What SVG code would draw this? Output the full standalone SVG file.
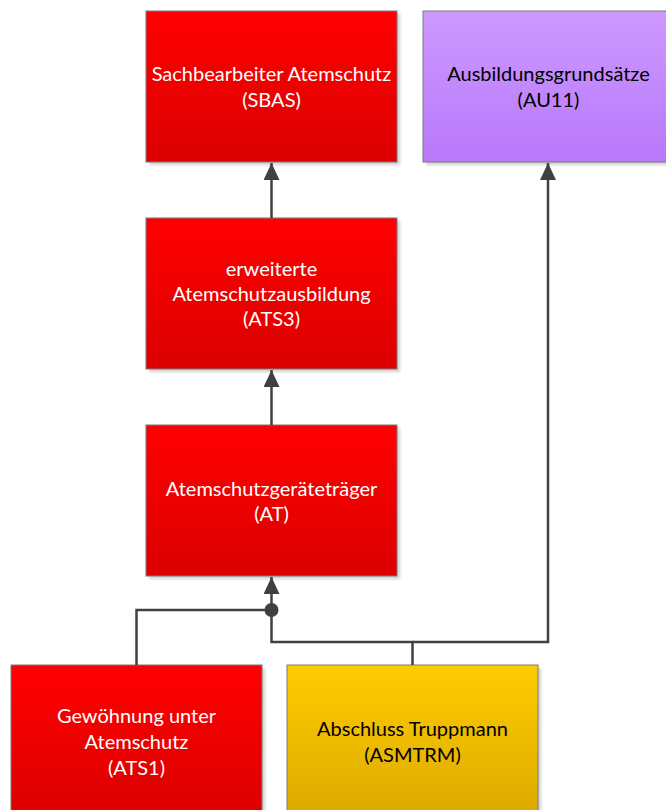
<svg xmlns="http://www.w3.org/2000/svg" width="666" height="810" viewBox="0 0 666 810">
<defs>
<linearGradient id="gRed" x1="0" y1="0" x2="0" y2="1"><stop offset="0" stop-color="#ff0000"/><stop offset="1" stop-color="#dc0000"/></linearGradient>
<linearGradient id="gPurple" x1="0" y1="0" x2="0" y2="1"><stop offset="0" stop-color="#cc99ff"/><stop offset="1" stop-color="#b978fb"/></linearGradient>
<linearGradient id="gYellow" x1="0" y1="0" x2="0" y2="1"><stop offset="0" stop-color="#ffcc00"/><stop offset="1" stop-color="#dcaa00"/></linearGradient>
<marker id="arr" viewBox="0 0 17 16" refX="17" refY="8" markerWidth="17" markerHeight="16" markerUnits="userSpaceOnUse" orient="auto">
<path d="M0,0 L17,8 L0,16 Z" fill="#404040"/>
</marker>
<filter id="sh" x="-5%" y="-5%" width="115%" height="115%"><feGaussianBlur stdDeviation="1.5"/></filter>
</defs>
<style>
.box{stroke:#7a7a7a;stroke-width:1}
.shadow{fill:#000;opacity:0.18;filter:url(#sh)}
.t{font-family:Lato,"Liberation Sans",sans-serif;font-size:20px;text-anchor:middle}
.w{fill:#ffffff}
.k{fill:#000000}
.con{fill:none;stroke:#404040;stroke-width:2.5}
</style>
<rect width="666" height="810" fill="#ffffff"/>
<g id="SBAS">
<rect class="shadow" x="149" y="14" width="251" height="151"/>
<rect class="box" x="146" y="11" width="251" height="151" fill="url(#gRed)"/>
<text class="t w" x="271.5" y="81">Sachbearbeiter Atemschutz</text>
<text class="t w" x="271.5" y="106.5">(SBAS)</text>
</g>
<g id="AU11">
<rect class="shadow" x="426" y="14" width="251" height="151"/>
<rect class="box" x="423" y="11" width="251" height="151" fill="url(#gPurple)"/>
<text class="t k" x="548.5" y="81">Ausbildungsgrundsätze</text>
<text class="t k" x="548.5" y="106.5">(AU11)</text>
</g>
<g id="ATS3">
<rect class="shadow" x="149" y="221" width="251" height="151"/>
<rect class="box" x="146" y="218" width="251" height="151" fill="url(#gRed)"/>
<text class="t w" x="271.5" y="275.5">erweiterte</text>
<text class="t w" x="271.5" y="300.5">Atemschutzausbildung</text>
<text class="t w" x="271.5" y="325.5">(ATS3)</text>
</g>
<g id="AT">
<rect class="shadow" x="149" y="428" width="251" height="151"/>
<rect class="box" x="146" y="425" width="251" height="151" fill="url(#gRed)"/>
<text class="t w" x="271.5" y="495.5">Atemschutzgeräteträger</text>
<text class="t w" x="271.5" y="521">(AT)</text>
</g>
<g id="ATS1">
<rect class="shadow" x="14" y="668" width="251" height="151"/>
<rect class="box" x="11" y="665" width="251" height="151" fill="url(#gRed)"/>
<text class="t w" x="136.5" y="722.5">Gewöhnung unter</text>
<text class="t w" x="136.5" y="748.5">Atemschutz</text>
<text class="t w" x="136.5" y="774.5">(ATS1)</text>
</g>
<g id="ASMTRM">
<rect class="shadow" x="290" y="668" width="251" height="151"/>
<rect class="box" x="287" y="665" width="251" height="151" fill="url(#gYellow)"/>
<text class="t k" x="412.5" y="735.5">Abschluss Truppmann</text>
<text class="t k" x="412.5" y="761.5">(ASMTRM)</text>
</g>
<g id="connectors">
<path class="con" d="M271.5,218 L271.5,163" marker-end="url(#arr)"/>
<path class="con" d="M271.5,425 L271.5,370" marker-end="url(#arr)"/>
<path class="con" d="M136.5,665 L136.5,610 L271.5,610 L271.5,577" marker-end="url(#arr)"/>
<path class="con" d="M412.5,665 L412.5,642 L271.5,642 L271.5,610"/>
<path class="con" d="M412.5,642 L548,642 L548,163" marker-end="url(#arr)"/>
<circle cx="271.5" cy="610" r="7" fill="#404040"/>
</g>
</svg>
